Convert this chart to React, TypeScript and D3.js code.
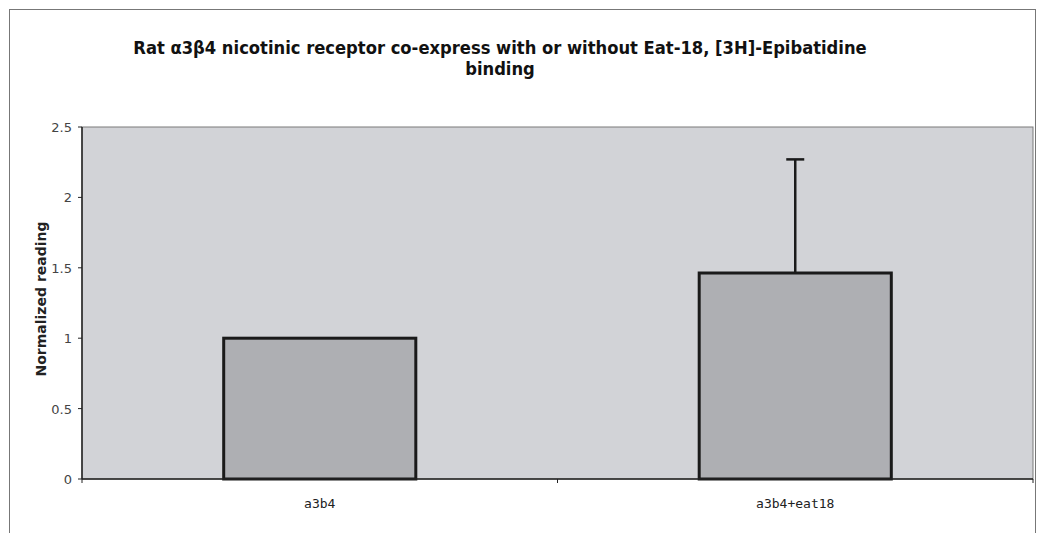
import React from "react";
import * as d3 from "d3";

const categories = ["a3b4", "a3b4+eat18"];
const values = [1.0, 1.463];
const errors = [0, 0.807];
const yTicks = [0, 0.5, 1, 1.5, 2, 2.5];
const titleLines = [
  "Rat \u03b13\u03b24 nicotinic receptor co-express with or without Eat-18, [3H]-Epibatidine",
  "binding",
];
const yLabel = "Normalized reading";

export default function App() {
  const W = 1039, H = 533;
  const m = { left: 82, right: 1033, top: 127, bottom: 479 };
  const x = d3.scaleBand<string>().domain(categories).range([m.left, m.right]).paddingInner(0.596).paddingOuter(0.298);
  const y = d3.scaleLinear().domain([0, 2.5]).range([m.bottom, m.top]);
  const font = "'DejaVu Sans', Verdana, sans-serif";
  return (
    <svg width={W} height={H} style={{ position: "absolute", left: 0, top: 0, background: "#fff" }}>
      <rect x={9.5} y={9.5} width={1026} height={540} fill="#fff" stroke="#777" strokeWidth={1} />
      {titleLines.map((t, i) => (
        <text key={i} x={500} y={54 + i * 21} textAnchor="middle" fontFamily="'DejaVu Sans Condensed', 'DejaVu Sans', sans-serif" fontWeight="bold" fontSize={18.2} fill="#111">{t}</text>
      ))}
      <rect x={m.left} y={m.top} width={m.right - m.left} height={m.bottom - m.top} fill="#d2d3d7" stroke="#7a7a7a" strokeWidth={1} />
      {categories.map((c, i) => {
        const bx = x(c)!;
        const bw = x.bandwidth();
        const cx = bx + bw / 2;
        return (
          <g key={c}>
            <rect x={bx} y={y(values[i])} width={bw} height={m.bottom - y(values[i])} fill="#aeafb3" stroke="#1a1a1a" strokeWidth={3} />
            {errors[i] > 0 && (
              <g stroke="#1a1a1a" strokeWidth={2.5}>
                <line x1={cx} x2={cx} y1={y(values[i])} y2={y(values[i] + errors[i])} />
                <line x1={cx - 9} x2={cx + 9} y1={y(values[i] + errors[i])} y2={y(values[i] + errors[i])} />
              </g>
            )}
            <text x={cx} y={508} textAnchor="middle" fontFamily="'DejaVu Sans Mono', monospace" fontSize={13} fill="#222">{c}</text>
          </g>
        );
      })}
      <line x1={m.left} x2={m.left} y1={m.top} y2={m.bottom} stroke="#222" strokeWidth={1.5} />
      <line x1={m.left} x2={m.right} y1={m.bottom} y2={m.bottom} stroke="#222" strokeWidth={1.5} />
      {yTicks.map((t) => (
        <g key={t}>
          <line x1={m.left - 4} x2={m.left} y1={y(t)} y2={y(t)} stroke="#222" />
          <text x={m.left - 10} y={y(t) + 5} textAnchor="end" fontFamily={font} fontSize={13} fill="#444">{t}</text>
        </g>
      ))}
      {[0, 1, 2].map((i) => {
        const xx = m.left + (i * (m.right - m.left)) / 2;
        return <line key={i} x1={xx} x2={xx} y1={m.bottom} y2={m.bottom + 4} stroke="#222" />;
      })}
      <text transform={`translate(46,${(m.top + m.bottom) / 2 - 4}) rotate(-90)`} textAnchor="middle" fontFamily={font} fontWeight="bold" fontSize={14} fill="#222">{yLabel}</text>
    </svg>
  );
}
